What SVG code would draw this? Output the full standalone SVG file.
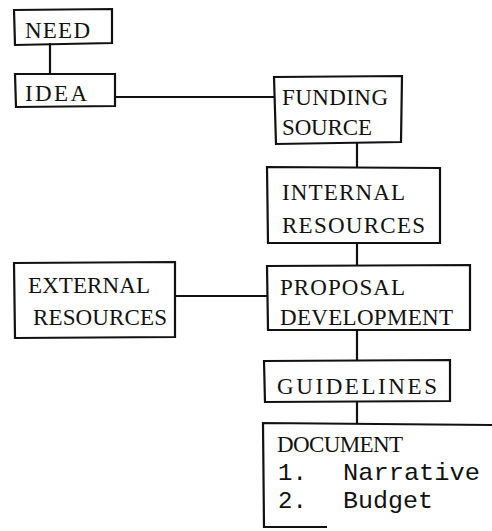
<svg xmlns="http://www.w3.org/2000/svg" width="492" height="531" viewBox="0 0 492 531">
<style>
.box{fill:none;stroke:#111;stroke-width:2.2;stroke-linejoin:miter}
.ln{fill:none;stroke:#111;stroke-width:2.2}
text{font-family:"Liberation Serif","DejaVu Serif",serif;font-size:23px;fill:#111}
text.tw{font-family:"Liberation Mono","DejaVu Sans Mono",monospace;font-size:24px}
</style>
<rect width="492" height="531" fill="#fff"/>
<g id="connectors">
<path class="ln" d="M50,43 V74"/>
<path class="ln" d="M115,97 H274"/>
<path class="ln" d="M357,143 V167"/>
<path class="ln" d="M357,243 V266"/>
<path class="ln" d="M175,296 H267"/>
<path class="ln" d="M357,330 V360"/>
<path class="ln" d="M357,402 V423"/>
</g>
<g id="need">
<path class="box" d="M14,10 L112,9 L112,43 L15,45 Z"/>
<text x="25" y="38" textLength="65" lengthAdjust="spacing">NEED</text>
</g>
<g id="idea">
<path class="box" d="M15,74 L115,74 L115,106 L16,107 Z"/>
<text x="25" y="101" textLength="62" lengthAdjust="spacing">IDEA</text>
</g>
<g id="funding">
<path class="box" d="M274,77 L402,76 L401,142 L276,144 Z"/>
<text x="282" y="105" textLength="106" lengthAdjust="spacing">FUNDING</text>
<text x="282" y="135" textLength="90" lengthAdjust="spacing">SOURCE</text>
</g>
<g id="internal">
<path class="box" d="M267,167 L440,168 L440,243 L268,243 Z"/>
<text x="282" y="200" textLength="123" lengthAdjust="spacing">INTERNAL</text>
<text x="282" y="233" textLength="143" lengthAdjust="spacing">RESOURCES</text>
</g>
<g id="external">
<path class="box" d="M14,263 L175,262 L175,337 L15,338 Z"/>
<text x="28" y="293" textLength="122" lengthAdjust="spacing">EXTERNAL</text>
<text x="33" y="325" textLength="134" lengthAdjust="spacing">RESOURCES</text>
</g>
<g id="proposal">
<path class="box" d="M267,266 L470,265 L470,330 L268,330 Z"/>
<text x="280" y="295" textLength="125" lengthAdjust="spacing">PROPOSAL</text>
<text x="280" y="325" textLength="173" lengthAdjust="spacing">DEVELOPMENT</text>
</g>
<g id="guidelines">
<path class="box" d="M264,361 L450,360 L450,401 L265,402 Z"/>
<text x="277" y="394" textLength="160" lengthAdjust="spacing">GUIDELINES</text>
</g>
<g id="document">
<path class="box" d="M492,425 L263,423 L264,527 L327,527"/>
<text x="277" y="452" textLength="126" lengthAdjust="spacing">DOCUMENT</text>
<text class="tw" x="278" y="480">1.</text>
<text class="tw" x="343" y="480" textLength="137" lengthAdjust="spacingAndGlyphs">Narrative</text>
<text class="tw" x="278" y="508">2.</text>
<text class="tw" x="343" y="508" textLength="90" lengthAdjust="spacingAndGlyphs">Budget</text>
</g>
</svg>
